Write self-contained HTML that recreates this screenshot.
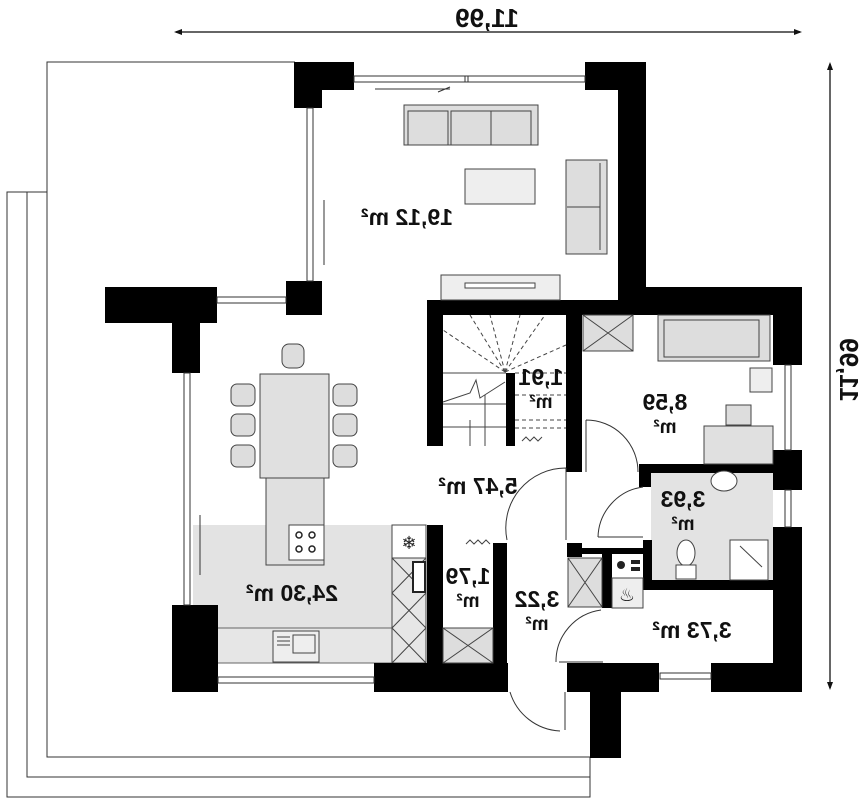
<!DOCTYPE html>
<html><head><meta charset="utf-8"><style>
html,body{margin:0;padding:0;background:#fff;width:860px;height:805px;overflow:hidden}
svg{display:block}
.t{font-family:"Liberation Sans Narrow","Liberation Sans",sans-serif;font-weight:bold;fill:#111}
.f{fill:#ddd;stroke:#444;stroke-width:1}
.l{fill:none;stroke:#333;stroke-width:1}
</style></head><body>
<svg width="860" height="805" viewBox="0 0 860 805">
<line x1="176" y1="32" x2="800" y2="32" stroke="#333" stroke-width="1.5"/>
<polygon points="174,32 182,29 182,35" fill="#111"/><polygon points="802,32 794,29 794,35" fill="#111"/>
<text class="t" transform="translate(487,27) scale(-1,1)" text-anchor="middle" style="font-size:26px">11,99</text>
<line x1="830" y1="64" x2="830" y2="688" stroke="#333" stroke-width="1.5"/>
<polygon points="830,62 827,70 833,70" fill="#111"/><polygon points="830,690 827,682 833,682" fill="#111"/>
<text class="t" transform="translate(840,370) rotate(90) scale(-1,1)" text-anchor="middle" style="font-size:26px">11,99</text>

<polyline class="l" points="295,62 47,62 47,757 590,757"/>
<polyline class="l" points="47,192 27,192 27,777 590,777 590,757"/>
<polyline class="l" points="27,192 7,192 7,797 590,797 590,777"/>

<rect x="193" y="525" width="199" height="138" fill="#e3e3e3"/>
<rect x="200" y="628" width="192" height="35" fill="#e6e6e6" stroke="#666" stroke-width="1"/>
<rect x="273" y="631" width="46" height="31" fill="#eee" stroke="#444"/>
<rect x="293" y="635" width="22" height="18" fill="none" stroke="#444"/>
<line x1="277" y1="637" x2="290" y2="637" stroke="#444"/><line x1="277" y1="641" x2="290" y2="641" stroke="#444"/><line x1="277" y1="645" x2="290" y2="645" stroke="#444"/>
<rect x="392" y="525" width="34" height="33" fill="#fff" stroke="#444"/>
<text x="409" y="549" style="font-size:18px" text-anchor="middle" fill="#222">❄</text>
<rect x="392" y="558" width="34" height="105" fill="#e6e6e6" stroke="#444"/>
<path d="M392,558 L426,593 M426,558 L392,593 M392,593 L426,628 M426,593 L392,628 M392,628 L426,663 M426,628 L392,663" stroke="#444"/>
<rect x="413" y="562" width="12" height="30" fill="#fff" stroke="#222" stroke-width="2"/>

<rect x="651" y="473" width="122" height="107" fill="#e3e3e3"/>
<g fill="#000">
<rect x="294" y="62" width="60" height="28"/><rect x="294" y="62" width="28" height="46"/>
<rect x="585" y="62" width="61" height="28"/><rect x="618" y="62" width="28" height="253"/>
<rect x="286" y="281" width="36" height="34"/>
<rect x="105" y="287" width="112" height="36"/><rect x="172" y="287" width="28" height="86"/>
<rect x="427" y="300" width="375" height="15"/><rect x="618" y="287" width="184" height="28"/>
<rect x="773" y="287" width="29" height="78"/>
<rect x="427" y="300" width="16" height="146"/>
<rect x="566" y="300" width="16" height="172"/>
<rect x="506" y="373" width="9" height="73"/>
<rect x="639" y="464" width="163" height="9"/>
<rect x="773" y="450" width="29" height="40"/>
<rect x="773" y="527" width="29" height="165"/>
<rect x="639" y="464" width="12" height="23"/><rect x="643" y="540" width="9" height="50"/>
<rect x="643" y="580" width="130" height="10"/>
<rect x="567" y="543" width="15" height="14"/><rect x="567" y="548" width="80" height="6"/>
<rect x="602" y="548" width="10" height="60"/>
<rect x="172" y="605" width="46" height="87"/><rect x="172" y="663" width="30" height="29"/>
<rect x="374" y="663" width="134" height="29"/>
<rect x="427" y="525" width="16" height="139"/>
<rect x="493" y="543" width="14" height="121"/>
<rect x="567" y="663" width="92" height="29"/><rect x="590" y="663" width="31" height="95"/>
<rect x="711" y="663" width="91" height="29"/>
</g>
<g class="l">
<rect x="354" y="76" width="231" height="6"/><line x1="465" y1="76" x2="465" y2="82"/><line x1="468" y1="76" x2="468" y2="82"/>
<rect x="307" y="108" width="6" height="173"/>
<rect x="217" y="297" width="69" height="6"/>
<rect x="184" y="373" width="6" height="232"/>
<rect x="218" y="677" width="156" height="6"/>
<rect x="660" y="673" width="51" height="6"/>
<rect x="785" y="365" width="6" height="85"/>
<rect x="785" y="490" width="6" height="37"/>
<line x1="375" y1="89" x2="450" y2="89"/><line x1="438" y1="92" x2="450" y2="87"/>
<line x1="324" y1="200" x2="324" y2="265"/><line x1="200" y1="515" x2="200" y2="575"/>
</g>
<rect class="f" x="404" y="105" width="134" height="40"/>
<rect class="f" x="408" y="111" width="40" height="34"/><rect class="f" x="451" y="111" width="40" height="34"/><rect class="f" x="491" y="111" width="40" height="34"/>
<rect x="465" y="169" width="70" height="35" fill="#eee" stroke="#444"/>
<rect class="f" x="566" y="160" width="41" height="94"/>
<line x1="567" y1="207" x2="600" y2="207" stroke="#444"/><line x1="600" y1="163" x2="600" y2="250" stroke="#444"/>
<rect x="441" y="275" width="119" height="25" fill="#eee" stroke="#444"/>
<rect x="465" y="283" width="70" height="5" fill="#fff" stroke="#444"/>
<rect x="260" y="374" width="69" height="104" fill="#e0e0e0" stroke="#444"/>
<rect x="266" y="478" width="58" height="87" fill="#e0e0e0" stroke="#444"/>
<rect x="289" y="525" width="35" height="35" fill="#fff" stroke="#444"/>
<g fill="none" stroke="#222" stroke-width="1.5"><circle cx="299" cy="535" r="3"/><circle cx="312" cy="535" r="3"/><circle cx="299" cy="549" r="3"/><circle cx="312" cy="549" r="3"/></g>
<g class="f"><rect x="282" y="344" width="22" height="24" rx="7"/>
<rect x="231" y="384" width="24" height="22" rx="6"/><rect x="231" y="414" width="24" height="22" rx="6"/><rect x="231" y="445" width="24" height="22" rx="6"/>
<rect x="333" y="384" width="24" height="22" rx="6"/><rect x="333" y="414" width="24" height="22" rx="6"/><rect x="333" y="445" width="24" height="22" rx="6"/></g>
<g stroke="#444" stroke-width="1" fill="none">
<path d="M443,373 H506 M443,404 H506 M443,427 H506 M485,395 V446 M470,420 V446"/>
<path d="M515,373 H566 M515,395 H566 M515,420 H566 M515,428 H566" stroke-dasharray="4,3"/>
<path d="M505,372 L443,330 M505,372 L470,315 M505,372 L490,315 M505,372 L520,315 M505,372 L545,315 M505,372 L566,345" stroke-dasharray="4,3"/>
<path d="M443,402 L470,393 L476,380 L480,398 L505,382"/>
<path d="M522,441 L526,437 L530,441 L534,437 L538,441 L542,437"/>
</g>
<rect class="f" x="583" y="315" width="50" height="36"/><path d="M583,315 L633,351 M633,315 L583,351" stroke="#444"/>
<rect class="f" x="658" y="315" width="112" height="46"/><rect class="f" x="664" y="320" width="95" height="37"/>
<rect x="750" y="368" width="22" height="24" fill="#eee" stroke="#444"/>
<rect x="704" y="426" width="69" height="38" fill="#e0e0e0" stroke="#444"/>
<rect class="f" x="726" y="405" width="25" height="20"/>
<ellipse cx="724" cy="481" rx="13" ry="10" fill="#fff" stroke="#444"/>
<path d="M730,540 H768 V580 H730 Z" fill="#fff" stroke="#444"/><line x1="740" y1="546" x2="762" y2="567" stroke="#444"/>
<ellipse cx="686" cy="553" rx="9" ry="13" fill="#fff" stroke="#444"/><rect x="676" y="565" width="20" height="14" fill="#fff" stroke="#444"/>
<rect class="f" x="568" y="558" width="34" height="49"/><path d="M568,558 L602,607 M602,558 L568,607" stroke="#444"/>
<rect x="612" y="578" width="31" height="30" fill="#eee" stroke="#444"/>
<text x="627" y="601" style="font-size:18px" text-anchor="middle" fill="#222">♨</text>
<circle cx="621" cy="565" r="4" fill="#222"/><rect x="631" y="560" width="9" height="4" fill="#222"/><rect x="631" y="567" width="9" height="4" fill="#222"/>
<rect class="f" x="443" y="628" width="50" height="35"/><path d="M443,628 L493,663 M493,628 L443,663" stroke="#444"/>
<path d="M466,544 L470,540 L474,544 L478,540 L482,544 L486,540 L490,544" stroke="#444" fill="none"/>
<g fill="none" stroke="#333" stroke-width="1">
<path d="M586,420 V472 M586,420 A52,52 0 0 1 638,472"/>
<path d="M598,537 H643 M643,487 A52,52 0 0 0 598,537"/>
<path d="M566,468 V540 M566,468 A60,60 0 0 0 507,540"/>
<path d="M559,662 H603 M601,610 A52,52 0 0 0 556,662"/>
<path d="M565,692 V730 M510,692 A55,55 0 0 0 560,731"/>
</g>
<g class="t" text-anchor="middle" style="font-size:23px">
<text transform="translate(407,225) scale(-1,1)">19,12 m²</text>
<text transform="translate(541,385) scale(-1,1)">1,91</text>
<text transform="translate(541,408) scale(-1,1)" style="font-size:19px">m²</text>
<text transform="translate(665,410) scale(-1,1)">8,59</text>
<text transform="translate(665,433) scale(-1,1)" style="font-size:19px">m²</text>
<text transform="translate(478,494) scale(-1,1)">5,47 m²</text>
<text transform="translate(683,507) scale(-1,1)">3,93</text>
<text transform="translate(683,530) scale(-1,1)" style="font-size:19px">m²</text>
<text transform="translate(292,601) scale(-1,1)">24,30 m²</text>
<text transform="translate(468,584) scale(-1,1)">1,79</text>
<text transform="translate(468,607) scale(-1,1)" style="font-size:19px">m²</text>
<text transform="translate(537,607) scale(-1,1)">3,22</text>
<text transform="translate(537,630) scale(-1,1)" style="font-size:19px">m²</text>
<text transform="translate(692,638) scale(-1,1)">3,73 m²</text>
</g>
</svg>
</body></html>
